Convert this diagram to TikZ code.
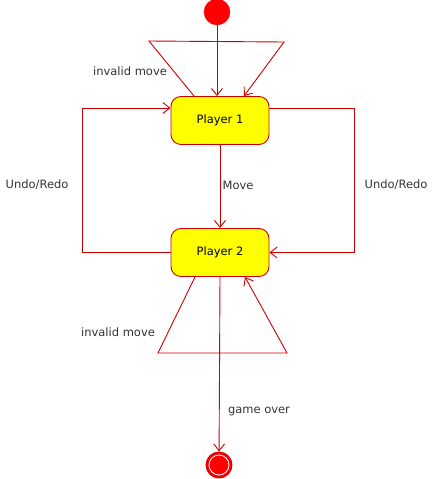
\documentclass[tikz,border=0pt]{standalone}
\usepackage{fontspec}
\setmainfont{DejaVu Sans}
\usepackage{tikz}
\usetikzlibrary{arrows.meta,shapes}

\definecolor{lred}{RGB}{204,0,0}
\definecolor{sred}{RGB}{255,0,0}
\definecolor{syel}{RGB}{255,255,0}
\definecolor{tgray}{RGB}{51,51,51}

\begin{document}
\begin{tikzpicture}[x=1pt, y=-1pt,
  arr/.style={draw=lred, line width=0.9pt, -{Straight Barb[length=7pt,width=11pt]}},
  statebox/.style={draw=lred, line width=0.9pt, fill=syel, rounded corners=10pt,
    minimum width=98pt, minimum height=48pt, inner sep=0pt, text=black},
  initstate/.style={circle, fill=sred, draw=sred, minimum size=26pt, inner sep=0pt},
  endstate/.style={circle, fill=sred, draw=lred, line width=0.9pt, minimum size=26pt, inner sep=0pt},
  lbl/.style={text=tgray, inner sep=0pt}]

  \fontsize{11.5}{13}\selectfont
  \useasboundingbox (0,0) rectangle (433,479);

  % states
  \node[initstate] (start) at (217,12) {};
  \node[statebox] (p1) at (220,120.5) {Player 1};
  \node[statebox] (p2) at (220,252.5) {Player 2};
  \node[endstate] (stop) at (219,465) {};
  \draw[white, line width=0.8pt] (stop.center) circle (10pt);

  % transitions
  \draw[arr] (start) -- (start |- p1.north);
  \draw[arr] ([xshift=-26pt]p1.north) -- (149,41) -- (284,42) -- ([xshift=24pt]p1.north); % p1->p1
  \draw[arr] (p1.south) -- (p2.north); % p1->p2
  \draw[arr] (p2.west) -- (82,252.5) -- (82,108) -- ([yshift=12.5pt]p1.west); % p2->p1
  \draw[arr] ([yshift=12.5pt]p1.east) -- (354,108) -- (354,252.5) -- (p2.east); % p1->p2
  \draw[arr] ([xshift=-25pt]p2.south) -- (158,353) -- (287,353) -- ([xshift=25pt]p2.south); % p2->p2
  \draw[arr] (p2.south) -- (stop);

  % labels
  \node[lbl] (inv1) at (130,71) {invalid move};
  \node[lbl] (undoL) at (37,185) {Undo/Redo};
  \node[lbl] (mv) at (238,185) {Move};
  \node[lbl] (undoR) at (396,185) {Undo/Redo};
  \node[lbl] (inv2) at (118,332) {invalid move};
  \node[lbl] (over) at (259,411) {game over};

\end{tikzpicture}
\end{document}
